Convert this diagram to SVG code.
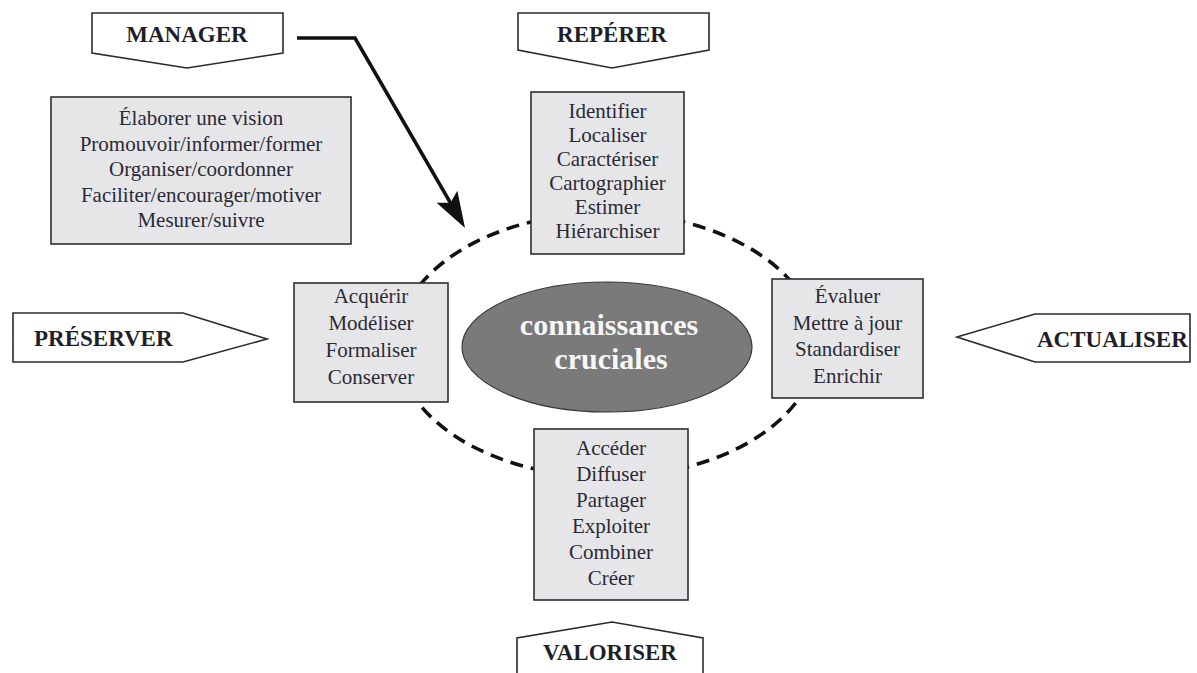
<svg xmlns="http://www.w3.org/2000/svg" width="1197" height="673" viewBox="0 0 1197 673">
  <style>
    .bg { fill: #ffffff; }
    .tag { fill: #ffffff; stroke: #2b2b2b; stroke-width: 1.6; stroke-linejoin: miter; }
    .tag-text { font-family: "Liberation Serif", "Times New Roman", serif; font-weight: bold; font-size: 23px; fill: #1f1f2a; }
    .box { fill: #e6e6e9; stroke: #2f2f2f; stroke-width: 1.6; }
    .box-text { font-family: "Liberation Serif", "Times New Roman", serif; font-size: 21px; fill: #2a2a36; text-anchor: middle; }
    .core { fill: #7a7a7a; stroke: #3a3a3a; stroke-width: 1.2; }
    .core-text { font-family: "Liberation Serif", "Times New Roman", serif; font-weight: bold; font-size: 30px; fill: #f7f7f7; text-anchor: middle; }
    .cycle { fill: none; stroke: #111111; stroke-width: 3.6; stroke-dasharray: 13 8; }
    .link { fill: none; stroke: #111111; stroke-width: 3.6; stroke-linejoin: miter; }
  </style>
  <defs>
    <marker id="head" markerUnits="userSpaceOnUse" viewBox="-30 -15 45 30" refX="0" refY="0" markerWidth="45" markerHeight="30" orient="auto">
      <path d="M10,0 L-26,-12 L-19,0 L-26,12 Z" fill="#111111"/>
    </marker>
  </defs>

  <rect class="bg" x="0" y="0" width="1197" height="673"/>

  <!-- dashed cycle around the core, and the management arrow -->
  <g id="connectors">
    <ellipse class="cycle" cx="607" cy="345" rx="210" ry="132"/>
    <path class="link" d="M297,38 L355,38 L460,219.3" marker-end="url(#head)"/>
  </g>

  <!-- core -->
  <g id="core">
    <ellipse class="core" cx="607" cy="347" rx="145" ry="65"/>
    <text class="core-text"><tspan x="609" y="335">connaissances</tspan><tspan x="611" y="369">cruciales</tspan></text>
  </g>

  <!-- labels -->
  <g id="manager">
    <polygon class="tag" points="92,13 283,13 283,53 187,68 92,53"/>
    <text class="tag-text" x="187" y="42" text-anchor="middle">MANAGER</text>
  </g>
  <g id="reperer">
    <polygon class="tag" points="518,13 709,13 709,50 612,68 518,50"/>
    <text class="tag-text" x="612" y="42" text-anchor="middle">REPÉRER</text>
  </g>
  <g id="preserver">
    <polygon class="tag" points="13,313 183,313 267,339 183,362 13,362"/>
    <text class="tag-text" x="34" y="346">PRÉSERVER</text>
  </g>
  <g id="actualiser">
    <polygon class="tag" points="1035,314 1190,314 1190,362 1035,362 957,337"/>
    <text class="tag-text" x="1037" y="347">ACTUALISER</text>
  </g>
  <g id="valoriser">
    <polygon class="tag" points="517,680 517,638 612,622 703,638 703,680"/>
    <text class="tag-text" x="610" y="660" text-anchor="middle">VALORISER</text>
  </g>

  <!-- activity lists -->
  <g id="manager-actions">
    <rect class="box" x="51" y="97" width="300" height="147"/>
    <text class="box-text" x="201" y="125">Élaborer une vision</text>
    <text class="box-text" x="201" y="150.5">Promouvoir/informer/former</text>
    <text class="box-text" x="201" y="176">Organiser/coordonner</text>
    <text class="box-text" x="201" y="201.5">Faciliter/encourager/motiver</text>
    <text class="box-text" x="201" y="227">Mesurer/suivre</text>
  </g>
  <g id="reperer-actions">
    <rect class="box" x="531" y="92" width="153" height="162"/>
    <text class="box-text" x="607.5" y="118">Identifier</text>
    <text class="box-text" x="607.5" y="142">Localiser</text>
    <text class="box-text" x="607.5" y="166">Caractériser</text>
    <text class="box-text" x="607.5" y="190">Cartographier</text>
    <text class="box-text" x="607.5" y="214">Estimer</text>
    <text class="box-text" x="607.5" y="238">Hiérarchiser</text>
  </g>
  <g id="preserver-actions">
    <rect class="box" x="294" y="283" width="154" height="119"/>
    <text class="box-text" x="371" y="303">Acquérir</text>
    <text class="box-text" x="371" y="330">Modéliser</text>
    <text class="box-text" x="371" y="357">Formaliser</text>
    <text class="box-text" x="371" y="384">Conserver</text>
  </g>
  <g id="actualiser-actions">
    <rect class="box" x="772" y="279" width="151" height="119"/>
    <text class="box-text" x="847.5" y="303">Évaluer</text>
    <text class="box-text" x="847.5" y="330">Mettre à jour</text>
    <text class="box-text" x="847.5" y="356">Standardiser</text>
    <text class="box-text" x="847.5" y="383">Enrichir</text>
  </g>
  <g id="valoriser-actions">
    <rect class="box" x="534" y="429" width="154" height="171"/>
    <text class="box-text" x="611" y="455">Accéder</text>
    <text class="box-text" x="611" y="481">Diffuser</text>
    <text class="box-text" x="611" y="507">Partager</text>
    <text class="box-text" x="611" y="533">Exploiter</text>
    <text class="box-text" x="611" y="559">Combiner</text>
    <text class="box-text" x="611" y="585">Créer</text>
  </g>
</svg>
